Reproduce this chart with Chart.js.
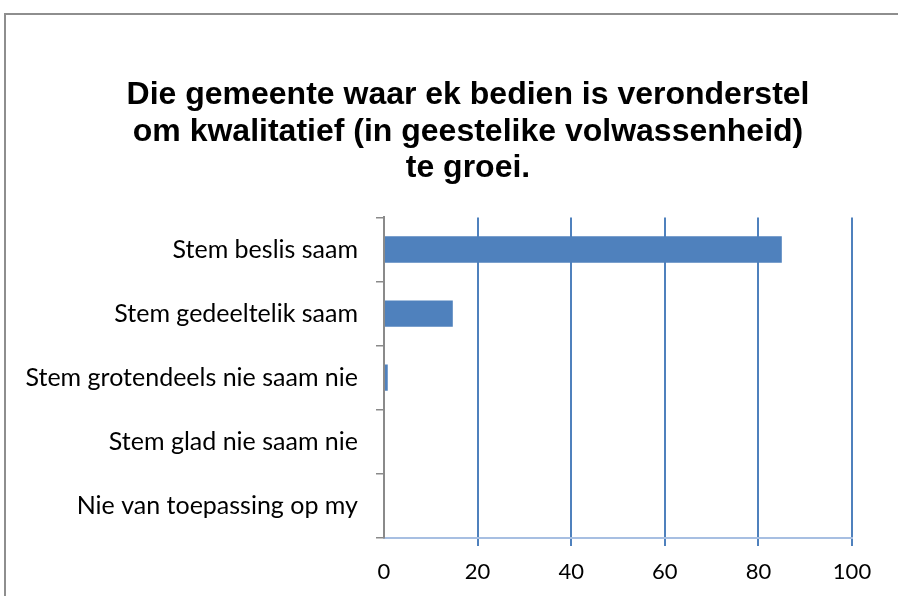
<!DOCTYPE html>
<html>
<head>
<meta charset="utf-8">
<script src="https://cdn.jsdelivr.net/npm/chart.js@4/dist/chart.umd.min.js"></script>
<style>
  html, body { margin: 0; padding: 0; background: #fff; overflow: hidden; }
  #frame {
    position: absolute; left: 4px; top: 13px;
    width: 1000px; height: 700px;
    border: 2px solid #8e8e8e;
  }
  #wrap { position: absolute; left: 0; top: 0; width: 924px; height: 581px; }
</style>
</head>
<body>
<div id="frame">
  <div id="wrap"><canvas id="barChart"></canvas></div>
</div>
<script>
// answer categories (top to bottom)
const categories = [
  'Stem beslis saam',
  'Stem gedeeltelik saam',
  'Stem grotendeels nie saam nie',
  'Stem glad nie saam nie',
  'Nie van toepassing op my'
];
// percentages
const values = [85, 14.7, 0.8, 0, 0];
const xTicks = [0, 20, 40, 60, 80, 100];
const titleLines = [
  'Die gemeente waar ek bedien is veronderstel',
  'om kwalitatief (in geestelike volwassenheid)',
  'te groei.'
];

// centre the title on the whole canvas, not on the padded area
const wideTitle = {
  id: 'wideTitle',
  afterLayout(chart) {
    if (chart.titleBlock) chart.titleBlock.right = chart.width;
  }
};

const ctx = document.getElementById('barChart').getContext('2d');
const barChart = new Chart(ctx, {
  type: 'bar',
  data: {
    labels: categories,
    datasets: [{
      data: values,
      backgroundColor: '#4f81bd',
      borderWidth: 0,
      barPercentage: 1,
      categoryPercentage: 0.41
    }]
  },
  options: {
    indexAxis: 'y',
    responsive: true,
    maintainAspectRatio: false,
    animation: false,
    layout: { padding: { left: 0, right: 78, top: 0, bottom: 0 } },
    scales: {
      x: {
        min: 0,
        max: 100,
        afterBuildTicks: (scale) => { scale.ticks = xTicks.map(v => ({ value: v })); },
        afterFit: (scale) => { scale.height = 58; },
        grid: {
          color: (c) => c.index === 0 ? 'rgba(0,0,0,0)' : '#4f81bd',
          lineWidth: 2,
          tickLength: 8
        },
        border: { color: '#a7bfe2', width: 2 },
        ticks: {
          color: '#000',
          padding: 13,
          font: { family: 'Lato', size: 22 }
        }
      },
      y: {
        afterFit: (scale) => { scale.width = 378; },
        grid: {
          drawOnChartArea: false,
          color: '#8a8a8a',
          lineWidth: 1.5,
          tickLength: 8
        },
        border: { color: '#8a8a8a', width: 2 },
        ticks: {
          color: '#000',
          padding: 18,
          font: { family: 'Lato', size: 25 }
        }
      }
    },
    plugins: {
      legend: { display: false },
      tooltip: { enabled: false },
      title: {
        display: true,
        text: titleLines,
        color: '#000',
        font: { family: 'Liberation Sans', size: 32, weight: 'bold', lineHeight: 1.14 },
        padding: { top: 62, bottom: 31 }
      }
    }
  },
  plugins: [wideTitle]
});
</script>
</body>
</html>
